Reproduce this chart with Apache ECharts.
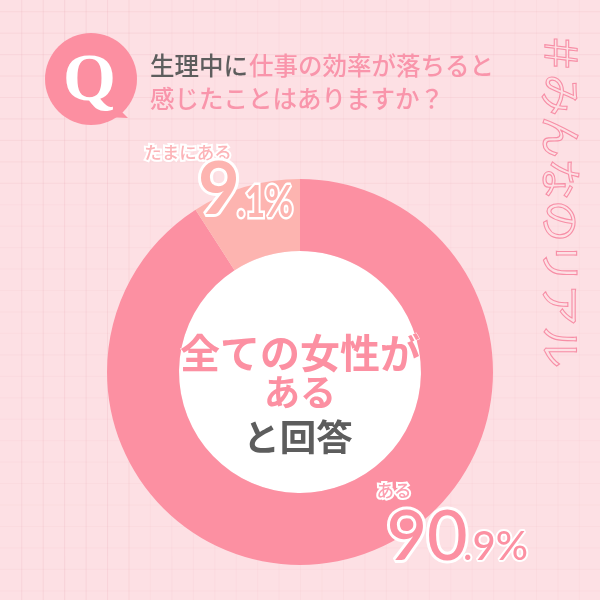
<!DOCTYPE html>
<html><head><meta charset="utf-8">
<style>html,body{margin:0;padding:0;background:#fde0e4}#c{width:600px;height:600px}</style>
<script src="https://cdn.jsdelivr.net/npm/echarts@6/dist/echarts.min.js"></script>
</head><body><div id="c"></div>
<script>
const categories = ['ある', 'たまにある'];
const values = [90.9, 9.1];
const sliceColors = ['#fc90a2', '#fdb4b0'];
const titleLine1 = ['生理中に', '仕事の効率が落ちると'];
const titleLine2 = '感じたことはありますか？';
const centerLines = ['全ての女性が', 'ある', 'と回答'];
const sideText = '＃みんなのリアル';

const jp = '"Noto Sans CJK JP"';
const chart = echarts.init(document.getElementById('c'));
const g = [];
// background grid paper
for (let i = 0; i < 28; i++) {
  const py = 11.7 + i * 21.45, px = 0.3 + i * 21.45;
  g.push({type:'line', z:0, silent:true, shape:{x1:px,y1:0,x2:px,y2:600}, style:{stroke:'#e8a0b0',lineWidth:1,opacity:i===0?0:(px<130?0.2:0.07)}});
  g.push({type:'line', z:0, silent:true, shape:{x1:0,y1:py,x2:600,y2:py}, style:{stroke:'#e8a0b0',lineWidth:1,opacity:py<190?0.16:0.07}});
}
// donut hole
g.push({type:'circle', z:1, silent:true, shape:{cx:300,cy:372,r:121}, style:{fill:'#fff'}});
// Q bubble
g.push({type:'circle', z:5, shape:{cx:91,cy:79,r:46}, style:{fill:'#fc8fa1'}});
g.push({type:'polygon', z:5, shape:{points:[[118,108],[128,118],[104,117]]}, style:{fill:'#fc8fa1'}});
g.push({type:'text', z:6, style:{text:'Q',x:89.5,y:82,align:'center',verticalAlign:'middle',font:'bold 68px "Liberation Serif"',fill:'#fff'}});
// text helper
const t = (text,x,y,size,fill,opt={}) => g.push({type:'text',z:7,rotation:opt.rotation||0,scaleX:opt.scaleX||1,x,y,
  style:{text,x:0,y:0,align:opt.align||'center',verticalAlign:'middle',
  font:`${opt.weight||500} ${size}px ${opt.family||jp}`,fill,stroke:opt.stroke,lineWidth:opt.lw||0}});
t(titleLine1[0],150,66,24.5,'#5d5d5d',{align:'left'});
t(titleLine1[1],249,66,24.5,'#f995ab',{align:'left'});
t(titleLine2,150,99,24.5,'#f995ab',{align:'left'});
centerLines.forEach((s,i)=>t(s,i<2?300:298,[353,392,437][i],[40,36,36.5][i],i<2?'#fc90a2':'#5d5d5d',{weight:700,stroke:i<2?'#fff':null,lw:i<2?1:0}));
t(categories[1],188,152,17.5,'#fcb4b8',{stroke:'#fff',lw:4});
t(categories[0],394,490,17.5,'#fc9fb0',{stroke:'#fff',lw:4});
const pct = (v)=>{const [a,b]=v.toFixed(1).split('.');return [a,'.'+b+'%'];};
const p1=pct(values[1]), p0=pct(values[0]);
t(p1[0],219,191,72,'#fdb4b0',{family:'Lato',weight:700,stroke:'#fff',lw:6});
t(p1[1],237,203,44,'#fdb4b0',{family:'Lato',weight:700,stroke:'#fff',lw:5,align:'left',scaleX:0.78});
t(p0[0],427,537,70,'#fc90a2',{family:'Lato',weight:500,stroke:'#fff',lw:6});
t(p0[1],463,547,40,'#fc90a2',{family:'Lato',weight:500,stroke:'#fff',lw:4,align:'left'});
t(sideText,561,200,42,'none',{rotation:-Math.PI/2,stroke:'#f78ea6',lw:1.1,weight:400});
chart.setOption({animation:false, backgroundColor:'#fde0e4', graphic:{elements:g},
  series:[{type:'pie',z:3,center:[300,372],radius:[121,193],startAngle:90,clockwise:true,silent:true,
    label:{show:false},labelLine:{show:false},
    data:categories.map((n,i)=>({name:n,value:values[i],itemStyle:{color:sliceColors[i]}}))}]});
</script></body></html>
